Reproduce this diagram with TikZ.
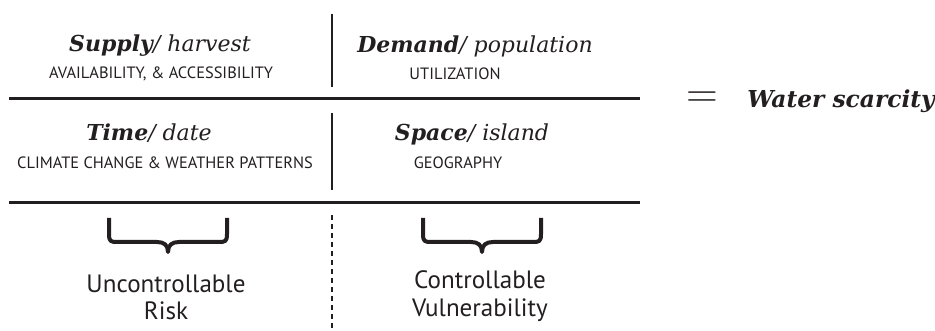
\documentclass[tikz,border=0pt]{standalone}
\usepackage{fontspec}
\setmainfont{DejaVu Serif}
\setsansfont{PT Sans}
\newfontfamily\eqfont{Latin Modern Roman}
\definecolor{ink}{RGB}{35,31,32}

\begin{document}
\begin{tikzpicture}[x=0.75pt,y=-0.75pt,
  heading/.style={font=\fontsize{16.5}{20}\selectfont\itshape, text=ink, inner sep=0pt, anchor=base},
  subline/.style={font=\sffamily\fontsize{12.3}{14}\selectfont, text=ink, inner sep=0pt, anchor=base},
  outcome/.style={font=\sffamily\fontsize{18.8}{20.5}\selectfont, text=ink, inner sep=0pt, anchor=base, align=center},
  thickrule/.style={draw=ink, line width=2.25pt},
  divider/.style={draw=ink, line width=1.1pt},
  curly/.style={draw=ink, line width=3pt, line join=round}]
  \useasboundingbox (0,0) rectangle (935,331);

  % top row
  \node[heading] (supply) at (160,52) {\textbf{Supply}/ harvest};
  \node[subline] (supplycap) at (161,79) {AVAILABILITY, \& ACCESSIBILITY};
  \node[heading] (demand) at (475,53) {\textbf{Demand}/ population};
  \node[subline] (demandcap) at (455,80) {UTILIZATION};
  \draw[divider] (332,14) -- (332,87);
  \draw[thickrule] (9,99) -- (640,99);

  % second row
  \node[heading] (time) at (149,141) {\textbf{Time}/ date};
  \node[subline] (timecap) at (165,169) {CLIMATE CHANGE \& WEATHER PATTERNS};
  \node[heading] (space) at (472,141) {\textbf{Space}/ island};
  \node[subline] (spacecap) at (458,169) {GEOGRAPHY};
  \draw[divider] (332,113) -- (332,190);
  \draw[thickrule] (9,203) -- (640,203);

  % result
  \node[font=\eqfont\fontsize{33}{33}\selectfont, text=ink, inner sep=0pt] (equals) at (702,100) {=};
  \node[heading, font=\fontsize{17.5}{20}\selectfont\itshape, anchor=base west] (scarcity) at (747,108) {\textbf{Water scarcity}};

  % braces and what they group
  \draw[ink, line width=0.8pt, dash pattern=on 3.75pt off 3pt] (332,215) -- (332,331);
  \foreach \cx in {168,482}
    \draw[curly] ({\cx-59},218) -- ({\cx-59},234)
      .. controls ({\cx-59},242) and ({\cx-57},242) .. ({\cx-50},242) -- ({\cx-11},242)
      .. controls ({\cx-4},242) and (\cx,245) .. (\cx,252)
      .. controls (\cx,245) and ({\cx+4},242) .. ({\cx+11},242) -- ({\cx+50},242)
      .. controls ({\cx+57},242) and ({\cx+59},242) .. ({\cx+59},234) -- ({\cx+59},218);
  \node[outcome] (risk) at (166,320) {Uncontrollable\\Risk};
  \node[outcome] (vulnerability) at (480,316) {Controllable\\Vulnerability};
\end{tikzpicture}
\end{document}
